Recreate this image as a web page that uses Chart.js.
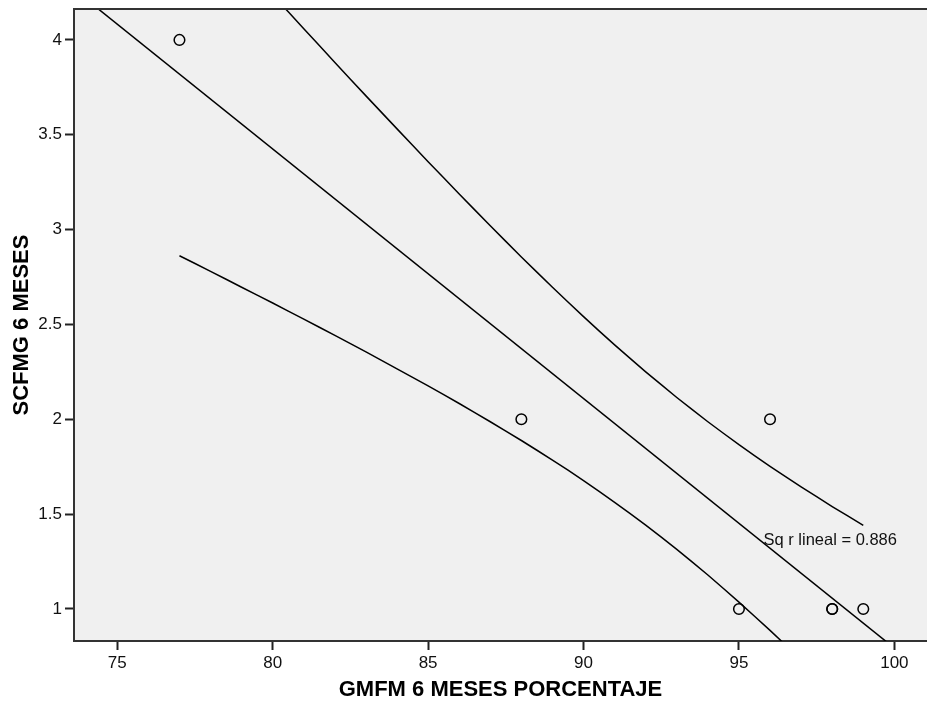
<!DOCTYPE html>
<html>
<head>
<meta charset="utf-8">
<script src="https://cdn.jsdelivr.net/npm/chart.js@4/dist/chart.umd.min.js"></script>
<style>
  html, body { margin: 0; padding: 0; background: #ffffff; overflow: hidden; }
  #wrap { width: 927px; height: 702px; }
  canvas { display: block; }
</style>
</head>
<body>
<div id="wrap"><canvas id="c" width="927" height="702"></canvas></div>
<script>
// ---- data ----
const gmfm  = [77, 88, 96, 95, 98, 98, 99];      // GMFM 6 MESES PORCENTAJE
const scfmg = [4, 2, 2, 1, 1, 1, 1];             // SCFMG 6 MESES

// fitted line (end points, clipped by the plot area)
const fitX = [73, 101];
const fitY = [4.346, 0.662];

// confidence-band curves, read along the x range 77..99
const bandX     = [77, 78, 79, 80, 81, 82, 83, 84, 85, 86, 87, 88, 89, 90, 91, 92, 93, 94, 95, 96, 97, 98, 99];
const bandLower = [2.862, 2.780, 2.696, 2.613, 2.528, 2.442, 2.355, 2.266, 2.176, 2.083, 1.987, 1.888, 1.785, 1.677, 1.562, 1.442, 1.314, 1.179, 1.036, 0.887, 0.732, 0.572, 0.408];
const bandUpper = [4.777, 4.596, 4.416, 4.237, 4.059, 3.881, 3.705, 3.531, 3.358, 3.188, 3.020, 2.856, 2.696, 2.541, 2.392, 2.250, 2.115, 1.987, 1.866, 1.752, 1.644, 1.540, 1.441];

const xTicks = [75, 80, 85, 90, 95, 100];
const yTicks = [1, 1.5, 2, 2.5, 3, 3.5, 4];

const xTitle = 'GMFM 6 MESES PORCENTAJE';
const yTitle = 'SCFMG 6 MESES';
const annotText = 'Sq r lineal = 0.886';
const annotX = 95.79;
const annotY = 1.36;

// ---- build ----
const FONT = "'Liberation Sans', Arial, Helvetica, sans-serif";
const toPts = (xs, ys) => xs.map((x, i) => ({ x: x, y: ys[i] }));

const lineStyle = {
  type: 'line', showLine: true, pointRadius: 0, pointHoverRadius: 0,
  borderColor: '#000000', borderWidth: 1.5, fill: false, tension: 0.15
};

const noPad = s => { s.paddingLeft = 0; s.paddingRight = 0; s.paddingTop = 0; s.paddingBottom = 0; };

const plotDecor = {
  id: 'plotDecor',
  beforeDraw(chart) {
    const a = chart.chartArea, ctx = chart.ctx;
    ctx.save();
    ctx.fillStyle = '#f0f0f0';
    ctx.fillRect(a.left, a.top, a.right - a.left, a.bottom - a.top);
    ctx.restore();
  },
  afterDraw(chart) {
    const a = chart.chartArea, ctx = chart.ctx;
    ctx.save();
    ctx.strokeStyle = '#333333';
    ctx.lineWidth = 2;
    ctx.beginPath();
    ctx.moveTo(a.left - 1, a.top);
    ctx.lineTo(a.right, a.top);
    ctx.stroke();
    // annotation text
    const xs = chart.scales.x, ys = chart.scales.y;
    ctx.fillStyle = '#111111';
    ctx.font = '16.5px ' + FONT;
    ctx.textAlign = 'left';
    ctx.textBaseline = 'middle';
    ctx.fillText(annotText, xs.getPixelForValue(annotX), ys.getPixelForValue(annotY));
    ctx.restore();
  }
};

new Chart(document.getElementById('c'), {
  type: 'scatter',
  data: {
    datasets: [
      Object.assign({ data: toPts(fitX, fitY) }, lineStyle, { tension: 0 }),
      Object.assign({ data: toPts(bandX, bandLower) }, lineStyle),
      Object.assign({ data: toPts(bandX, bandUpper) }, lineStyle),
      {
        type: 'scatter',
        data: toPts(gmfm, scfmg),
        pointStyle: 'circle',
        pointRadius: 5.3,
        pointHoverRadius: 5.3,
        pointBorderWidth: 1.5,
        borderColor: '#000000',
        backgroundColor: 'rgba(0,0,0,0)'
      }
    ]
  },
  options: {
    responsive: false,
    animation: false,
    events: [],
    layout: { autoPadding: false, padding: { top: 9, right: 0, left: 0, bottom: 0 } },
    plugins: { legend: { display: false }, tooltip: { enabled: false } },
    scales: {
      x: {
        type: 'linear',
        min: 73.607, max: 101.05,
        afterBuildTicks: s => { s.ticks = xTicks.map(v => ({ value: v })); },
        afterFit: s => { s.height = 61; noPad(s); },
        grid: { drawOnChartArea: false, tickLength: 9, tickColor: '#222222', tickWidth: 2 },
        border: { display: true, color: '#333333', width: 2 },
        ticks: { color: '#111111', padding: 3, font: { family: FONT, size: 17 }, maxRotation: 0, callback: v => String(v) },
        title: { display: true, text: xTitle, color: '#000000', font: { family: FONT, size: 22, weight: 'bold', lineHeight: 1 }, padding: { top: 1, bottom: 1 } }
      },
      y: {
        type: 'linear',
        min: 0.831, max: 4.163,
        afterBuildTicks: s => { s.ticks = yTicks.map(v => ({ value: v })); },
        afterFit: s => { s.width = 74; noPad(s); },
        grid: { drawOnChartArea: false, tickLength: 9, tickColor: '#222222', tickWidth: 2 },
        border: { display: true, color: '#333333', width: 2 },
        ticks: { color: '#111111', padding: 3, font: { family: FONT, size: 17 }, callback: v => String(v) },
        title: { display: true, text: yTitle, color: '#000000', font: { family: FONT, size: 22, weight: 'bold', lineHeight: 1 }, padding: { top: 11, bottom: 0 } }
      }
    }
  },
  plugins: [plotDecor]
});
</script>
</body>
</html>
